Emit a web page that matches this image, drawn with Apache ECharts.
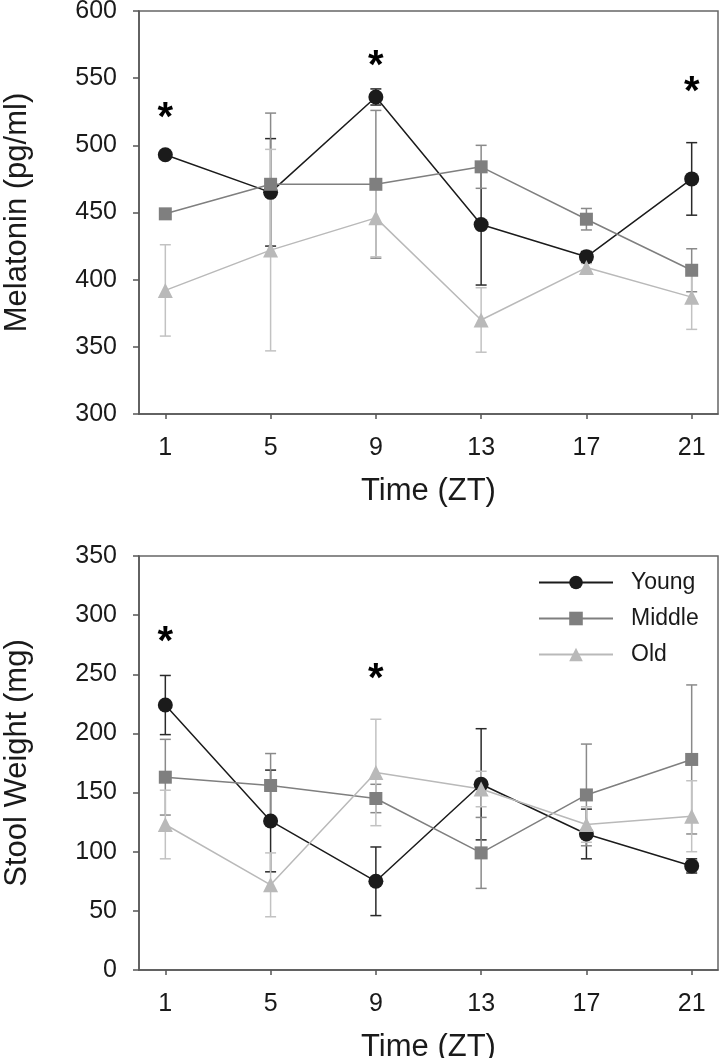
<!DOCTYPE html>
<html>
<head>
<meta charset="utf-8">
<script src="https://cdn.jsdelivr.net/npm/echarts@6/dist/echarts.min.js"></script>
<style>
html,body{margin:0;padding:0;background:#fff;}
#chart{width:720px;height:1058px;}
</style>
</head>
<body>
<div id="chart"></div>
<script>
// ---- data ----
const zt = [1, 5, 9, 13, 17, 21];
const seriesNames = ['Young', 'Middle', 'Old'];

const melYoung = [493, 465, 536, 441, 417, 475];
const melYoungErr = [3, 40, 6, 45, 4, 27];
const melMiddle = [449, 471, 471, 484, 445, 407];
const melMiddleErr = [3, 53, 55, 16, 8, 16];
const melOld = [392, 422, 446, 370, 409, 387];
const melOldErr = [34, 75, 29, 24, 3, 24];
const melSigX = [1, 9, 21];
const melSigY = [526, 565, 546];

const stYoung = [224, 126, 75, 157, 115, 88];
const stYoungErr = [25, 43, 29, 47, 21, 6];
const stMiddle = [163, 156, 145, 99, 148, 178];
const stMiddleErr = [32, 27, 12, 30, 43, 63];
const stOld = [123, 72, 167, 153, 123, 130];
const stOldErr = [29, 27, 45, 15, 15, 30];
const stSigX = [1, 9];
const stSigY = [284, 253];

const melTicks = [300, 350, 400, 450, 500, 550, 600];
const stTicks = [0, 50, 100, 150, 200, 250, 300, 350];

// ---- styles ----
const FONT = "'Liberation Sans', Arial, Helvetica, sans-serif";
const colors = { Young: '#1b1b1b', Middle: '#7f7f7f', Old: '#b9b9b9' };
const errColors = { Young: '#2a2a2a', Middle: '#8a8a8a', Old: '#c2c2c2' };
const symbols = { Young: 'circle', Middle: 'rect', Old: 'triangle' };
const symSizes = { Young: 15, Middle: 13, Old: 15 };
const axisColor = '#555555';

function pairs(xs, ys) { return xs.map((x, i) => [x, ys[i]]); }
function triples(xs, ys, es) { return xs.map((x, i) => [x, ys[i], es[i]]); }

function errSeries(name, idx, vals, errs) {
  const c = errColors[name];
  return {
    type: 'custom', name: name + ' err', xAxisIndex: idx, yAxisIndex: idx,
    z: 1, silent: true,
    data: triples(zt, vals, errs),
    renderItem: function (params, api) {
      const x = api.value(0), y = api.value(1), e = api.value(2);
      const t = api.coord([x, y + e]);
      const b = api.coord([x, y - e]);
      const hw = 5.5;
      const st = { stroke: c, lineWidth: 1.5 };
      return { type: 'group', children: [
        { type: 'line', shape: { x1: t[0], y1: t[1], x2: b[0], y2: b[1] }, style: st },
        { type: 'line', shape: { x1: t[0] - hw, y1: t[1], x2: t[0] + hw, y2: t[1] }, style: st },
        { type: 'line', shape: { x1: b[0] - hw, y1: b[1], x2: b[0] + hw, y2: b[1] }, style: st }
      ]};
    }
  };
}

function lineSeries(name, idx, vals) {
  return {
    type: 'line', name: name, xAxisIndex: idx, yAxisIndex: idx, z: 3,
    data: pairs(zt, vals),
    symbol: symbols[name], symbolSize: symSizes[name],
    lineStyle: { color: colors[name], width: 1.5 },
    itemStyle: { color: colors[name] },
    emphasis: { disabled: true }
  };
}

function sigSeries(idx, xs, ys) {
  return {
    type: 'custom', xAxisIndex: idx, yAxisIndex: idx, z: 5, silent: true,
    data: pairs(xs, ys),
    renderItem: function (params, api) {
      const p = api.coord([api.value(0), api.value(1)]);
      return {
        type: 'text', x: p[0], y: p[1] + 9,
        style: { text: '*', fill: '#000', font: 'bold 40px ' + FONT,
          align: 'center', verticalAlign: 'middle', textAlign: 'center', textVerticalAlign: 'middle' }
      };
    }
  };
}

function xAxis(idx) {
  return {
    type: 'value', gridIndex: idx, min: 0, max: 22,
    name: 'Time (ZT)', nameLocation: 'middle', nameGap: 62,
    nameTextStyle: { fontSize: 31, color: '#1a1a1a', fontFamily: FONT },
    axisLine: { show: true, lineStyle: { color: axisColor, width: 1.5 } },
    axisTick: { show: true, customValues: zt, length: 5, lineStyle: { color: axisColor, width: 1.5 } },
    axisLabel: { customValues: zt, fontSize: 25, color: '#1a1a1a', fontFamily: FONT, margin: 22 },
    splitLine: { show: false }
  };
}

function yAxis(idx, name, min, max) {
  return {
    type: 'value', gridIndex: idx, min: min, max: max, interval: 50,
    name: name, nameLocation: 'middle', nameGap: 106,
    nameTextStyle: { fontSize: 31, color: '#1a1a1a', fontFamily: FONT },
    axisLine: { show: true, lineStyle: { color: axisColor, width: 1.5 } },
    axisTick: { show: true, inside: false, length: 6, lineStyle: { color: axisColor, width: 1.5 } },
    axisLabel: { fontSize: 25, color: '#1a1a1a', fontFamily: FONT, margin: 22 },
    splitLine: { show: false }
  };
}

const chart = echarts.init(document.getElementById('chart'), null, { renderer: 'canvas' });
chart.setOption({
  animation: false,
  backgroundColor: '#ffffff',
  textStyle: { fontFamily: FONT },
  grid: [
    { left: 139, top: 11, right: 2, height: 403, show: true, borderColor: '#666', borderWidth: 1.5,
      backgroundColor: 'transparent', containLabel: false, outerBoundsMode: 'none' },
    { left: 139, top: 556, right: 2, height: 414, show: true, borderColor: '#666', borderWidth: 1.5,
      backgroundColor: 'transparent', containLabel: false, outerBoundsMode: 'none' }
  ],
  xAxis: [xAxis(0), xAxis(1)],
  yAxis: [yAxis(0, 'Melatonin (pg/ml)', melTicks[0], melTicks[melTicks.length - 1]),
          yAxis(1, 'Stool Weight (mg)', stTicks[0], stTicks[stTicks.length - 1])],
  legend: {
    data: seriesNames, orient: 'vertical', left: 538, top: 571, padding: 0,
    itemWidth: 74, itemHeight: 17, itemGap: 13,
    textStyle: { fontSize: 23, color: '#1a1a1a', fontFamily: FONT, padding: [0, 0, 0, 13] },
    selectedMode: false
  },
  series: [
    errSeries('Young', 0, melYoung, melYoungErr),
    errSeries('Middle', 0, melMiddle, melMiddleErr),
    errSeries('Old', 0, melOld, melOldErr),
    lineSeries('Young', 0, melYoung),
    lineSeries('Middle', 0, melMiddle),
    lineSeries('Old', 0, melOld),
    sigSeries(0, melSigX, melSigY),
    errSeries('Young', 1, stYoung, stYoungErr),
    errSeries('Middle', 1, stMiddle, stMiddleErr),
    errSeries('Old', 1, stOld, stOldErr),
    lineSeries('Young', 1, stYoung),
    lineSeries('Middle', 1, stMiddle),
    lineSeries('Old', 1, stOld),
    sigSeries(1, stSigX, stSigY)
  ]
});
</script>
</body>
</html>
